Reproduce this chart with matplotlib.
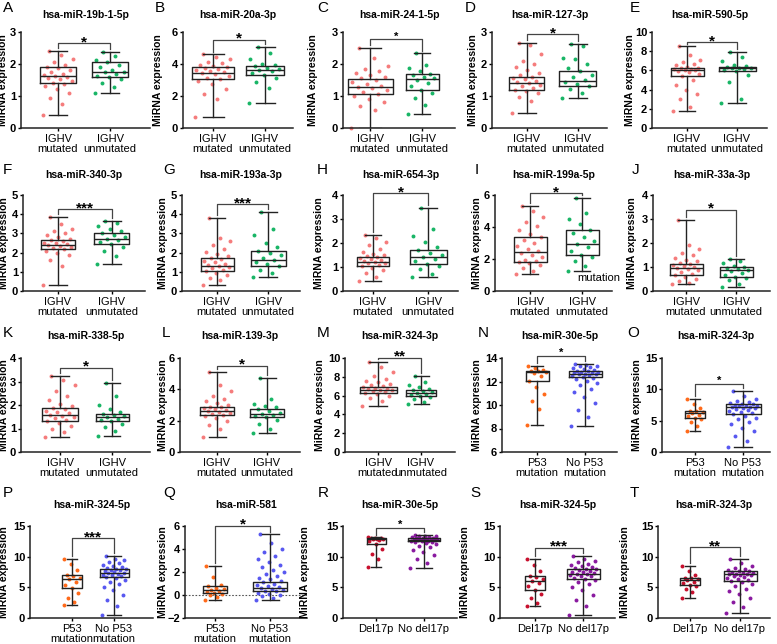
import matplotlib
matplotlib.use('Agg')
import matplotlib.pyplot as plt
import numpy as np

plt.rcParams['font.family'] = ['Liberation Sans', 'DejaVu Sans']

# ---- chart data ----
titles = ['hsa-miR-19b-1-5p', 'hsa-miR-20a-3p', 'hsa-miR-24-1-5p', 'hsa-miR-127-3p', 'hsa-miR-590-5p',
          'hsa-miR-340-3p', 'hsa-miR-193a-3p', 'hsa-miR-654-3p', 'hsa-miR-199a-5p', 'hsa-miR-33a-3p',
          'hsa-miR-338-5p', 'hsa-miR-139-3p', 'hsa-miR-324-3p', 'hsa-miR-30e-5p', 'hsa-miR-324-3p',
          'hsa-miR-324-5p', 'hsa-miR-581', 'hsa-miR-30e-5p', 'hsa-miR-324-5p', 'hsa-miR-324-3p']
letters = list('ABCDEFGHIJKLMNOPQRST')
group_kind = ['ighv'] * 13 + ['p53'] * 4 + ['del'] * 3
group_labels = {'ighv': ['IGHV\nmutated', 'IGHV\nunmutated'],
                'p53': ['P53\nmutation', 'No P53\nmutation'],
                'del': ['Del17p', 'No del17p']}
sig = ['*', '*', '*', '*', '*', '***', '***', '*', '*', '*',
       '*', '*', '**', '*', '*', '***', '*', '*', '***', '**']
bracket_y = [2.65, 5.5, 2.77, 2.93, 8.93, 4.26, 4.52, 4.07, 6.1, 3.37,
             3.59, 5.5, 10.03, 14.15, 10.8, 13.0, 6.0, 14.7, 11.4, 11.5]
y_min = [0, 0, 0, 0, 0, 0, 0, 0, 0, 0, 0, 0, 0, 6, 0, 0, -2, 0, 0, 0]
y_max = [3, 6, 3, 3, 10, 5, 5, 4, 6, 4, 4, 6, 10, 14, 15, 15, 6, 15, 15, 15]
y_step = [1, 2, 1, 1, 2, 1, 1, 1, 2, 1, 1, 2, 2, 2, 5, 5, 2, 5, 5, 5]

# box stats: (min, q1, median, q3, max)
stats_g1 = [(0.40, 1.42, 1.62, 1.90, 2.42), (0.70, 3.05, 3.45, 3.80, 4.60), (0.00, 1.07, 1.28, 1.52, 2.50),
            (0.48, 1.20, 1.42, 1.60, 2.66), (1.80, 5.40, 6.00, 6.20, 8.50), (0.30, 2.20, 2.40, 2.65, 3.88),
            (0.30, 1.03, 1.30, 1.70, 3.80), (0.40, 1.05, 1.22, 1.42, 2.32), (1.05, 1.79, 2.46, 3.37, 5.33),
            (0.28, 0.65, 0.97, 1.13, 2.97), (0.63, 1.33, 1.59, 1.87, 3.25), (0.98, 2.38, 2.63, 2.90, 5.10),
            (4.93, 6.32, 6.61, 6.89, 9.57), (8.28, 12.06, 12.84, 12.93, 13.36), (3.36, 5.41, 6.17, 6.60, 8.50),
            (2.11, 4.88, 6.34, 7.00, 9.70), (-0.42, 0.17, 0.43, 0.74, 2.53), (8.30, 12.10, 12.80, 13.10, 13.15),
            (2.00, 4.60, 6.10, 6.90, 9.70), (3.30, 5.40, 6.20, 6.60, 8.50)]
stats_g2 = [(1.10, 1.58, 1.75, 2.05, 2.38), (1.58, 3.30, 3.65, 3.85, 5.05), (0.45, 1.18, 1.53, 1.68, 2.33),
            (0.93, 1.30, 1.48, 1.77, 2.62), (2.60, 5.95, 6.20, 6.40, 7.95), (1.42, 2.45, 2.72, 3.00, 3.65),
            (0.75, 1.28, 1.62, 2.08, 4.12), (0.58, 1.14, 1.42, 1.70, 3.45), (1.22, 2.25, 2.91, 3.83, 5.79),
            (0.17, 0.58, 0.86, 0.99, 1.35), (0.67, 1.31, 1.47, 1.62, 2.95), (1.20, 2.21, 2.42, 2.74, 4.74),
            (5.10, 5.96, 6.25, 6.61, 8.10), (8.20, 12.41, 12.64, 12.93, 13.50), (0.76, 6.06, 7.14, 7.58, 9.69),
            (0.54, 6.62, 7.27, 8.07, 10.13), (-0.42, 0.31, 0.60, 1.09, 5.28), (8.20, 12.50, 12.70, 13.10, 13.50),
            (0.50, 6.40, 7.20, 8.00, 10.10), (0.80, 6.00, 7.10, 7.60, 9.70)]

points_g1 = [
    [0.40, 0.75, 0.95, 1.10, 1.22, 1.30, 1.38, 1.42, 1.48, 1.52, 1.56, 1.60, 1.62, 1.66, 1.70, 1.74, 1.80, 1.86, 1.90, 1.96, 2.05, 2.15, 2.28, 2.42],
    [0.70, 1.80, 2.10, 2.45, 2.75, 2.95, 3.05, 3.15, 3.25, 3.35, 3.42, 3.48, 3.55, 3.62, 3.70, 3.76, 3.80, 3.88, 3.95, 4.05, 4.15, 4.30, 4.45, 4.60],
    [0.00, 0.55, 0.70, 0.82, 0.92, 1.00, 1.07, 1.12, 1.18, 1.24, 1.28, 1.32, 1.38, 1.44, 1.50, 1.55, 1.60, 1.66, 1.72, 1.78, 1.84, 1.95, 2.20, 2.50],
    [0.48, 0.85, 0.98, 1.08, 1.15, 1.20, 1.25, 1.30, 1.35, 1.40, 1.43, 1.48, 1.52, 1.56, 1.60, 1.66, 1.72, 1.80, 1.90, 2.00, 2.10, 2.30, 2.60, 2.66],
    [1.80, 2.20, 3.00, 3.50, 4.00, 4.50, 5.00, 5.40, 5.60, 5.80, 5.90, 6.00, 6.05, 6.10, 6.15, 6.20, 6.30, 6.40, 6.55, 6.70, 6.90, 7.10, 7.60, 8.50],
    [0.30, 1.30, 1.60, 1.85, 2.00, 2.10, 2.20, 2.25, 2.30, 2.35, 2.40, 2.44, 2.48, 2.52, 2.58, 2.65, 2.72, 2.80, 2.90, 3.00, 3.10, 3.25, 3.50, 3.88],
    [0.30, 0.55, 0.70, 0.85, 0.95, 1.03, 1.10, 1.18, 1.25, 1.30, 1.36, 1.42, 1.50, 1.58, 1.65, 1.70, 1.80, 1.92, 2.05, 2.20, 2.40, 2.60, 2.75, 3.80],
    [0.40, 0.60, 0.75, 0.88, 0.97, 1.05, 1.10, 1.15, 1.18, 1.22, 1.26, 1.30, 1.34, 1.38, 1.42, 1.46, 1.50, 1.55, 1.62, 1.75, 1.90, 2.05, 2.20, 2.32],
    [1.05, 1.25, 1.45, 1.60, 1.72, 1.79, 1.85, 1.95, 2.10, 2.25, 2.40, 2.50, 2.65, 2.80, 3.00, 3.20, 3.37, 3.55, 3.80, 4.05, 4.30, 4.60, 5.00, 5.33],
    [0.28, 0.35, 0.42, 0.50, 0.58, 0.65, 0.72, 0.80, 0.86, 0.92, 0.97, 1.00, 1.04, 1.08, 1.13, 1.18, 1.24, 1.30, 1.38, 1.48, 1.60, 1.75, 1.90, 2.97],
    [0.63, 0.85, 1.00, 1.12, 1.22, 1.33, 1.38, 1.44, 1.50, 1.55, 1.59, 1.64, 1.70, 1.76, 1.82, 1.87, 1.95, 2.05, 2.20, 2.40, 2.60, 2.85, 3.05, 3.25],
    [0.98, 1.50, 1.75, 1.95, 2.15, 2.30, 2.38, 2.45, 2.52, 2.58, 2.63, 2.68, 2.74, 2.80, 2.86, 2.90, 3.00, 3.10, 3.25, 3.40, 3.60, 3.90, 4.30, 5.10],
    [4.93, 5.40, 5.75, 6.00, 6.15, 6.32, 6.40, 6.48, 6.55, 6.61, 6.66, 6.72, 6.80, 6.89, 6.98, 7.10, 7.25, 7.40, 7.60, 7.80, 8.10, 8.50, 9.00, 9.57],
    [8.28, 9.70, 10.30, 10.90, 11.50, 12.06, 12.50, 12.75, 12.84, 12.88, 12.93, 13.00, 13.15, 13.36],
    [3.36, 4.20, 4.80, 5.20, 5.41, 5.70, 5.95, 6.17, 6.35, 6.50, 6.60, 7.00, 7.60, 8.50],
    [2.11, 2.60, 3.30, 4.00, 4.88, 5.40, 5.90, 6.34, 6.60, 6.85, 7.00, 7.80, 8.80, 9.70],
    [-0.42, -0.20, 0.00, 0.10, 0.17, 0.25, 0.35, 0.43, 0.55, 0.65, 0.74, 0.85, 1.60, 2.53],
    [8.30, 9.60, 10.40, 11.20, 12.10, 12.50, 12.70, 12.80, 12.90, 12.95, 13.00, 13.05, 13.10, 13.15],
    [2.00, 2.50, 3.20, 3.90, 4.60, 5.20, 5.70, 6.10, 6.40, 6.70, 6.90, 7.60, 8.60, 9.70],
    [3.30, 4.20, 4.80, 5.20, 5.40, 5.70, 5.95, 6.20, 6.35, 6.50, 6.60, 7.00, 7.60, 8.50],
]
points_g2 = [
    [1.10, 1.28, 1.40, 1.52, 1.58, 1.64, 1.70, 1.74, 1.76, 1.82, 1.90, 1.98, 2.05, 2.12, 2.25, 2.38],
    [1.58, 2.50, 2.90, 3.15, 3.30, 3.45, 3.58, 3.65, 3.70, 3.78, 3.85, 3.92, 4.00, 4.30, 4.70, 5.05],
    [0.45, 0.72, 0.95, 1.08, 1.18, 1.30, 1.42, 1.50, 1.55, 1.60, 1.65, 1.70, 1.78, 1.88, 1.98, 2.33],
    [0.93, 1.10, 1.22, 1.30, 1.38, 1.45, 1.50, 1.58, 1.66, 1.77, 1.88, 2.00, 2.15, 2.20, 2.55, 2.62],
    [2.60, 3.00, 4.80, 5.50, 5.95, 6.05, 6.15, 6.20, 6.25, 6.30, 6.40, 6.50, 6.60, 7.00, 7.40, 7.95],
    [1.42, 1.80, 2.10, 2.30, 2.45, 2.55, 2.65, 2.72, 2.80, 2.90, 3.00, 3.10, 3.25, 3.40, 3.55, 3.65],
    [0.75, 0.95, 1.10, 1.28, 1.40, 1.52, 1.62, 1.72, 1.85, 1.98, 2.08, 2.30, 2.50, 2.90, 3.25, 4.12],
    [0.58, 0.70, 0.90, 1.05, 1.14, 1.25, 1.35, 1.42, 1.50, 1.60, 1.70, 1.85, 2.05, 2.30, 2.60, 3.45],
    [1.22, 1.55, 1.85, 2.10, 2.25, 2.50, 2.75, 2.91, 3.10, 3.35, 3.60, 3.83, 4.20, 4.50, 4.90, 5.79],
    [0.17, 0.30, 0.45, 0.55, 0.58, 0.66, 0.75, 0.82, 0.86, 0.90, 0.95, 0.99, 1.05, 1.15, 1.25, 1.35],
    [0.67, 0.90, 1.05, 1.20, 1.31, 1.36, 1.42, 1.47, 1.52, 1.57, 1.62, 1.70, 1.85, 2.00, 2.40, 2.95],
    [1.20, 1.50, 1.80, 2.05, 2.21, 2.28, 2.35, 2.42, 2.50, 2.60, 2.74, 2.85, 2.95, 3.05, 3.40, 4.74],
    [5.10, 5.30, 5.60, 5.80, 5.96, 6.05, 6.15, 6.25, 6.35, 6.45, 6.61, 6.75, 6.90, 7.10, 7.40, 8.10],
    [8.20, 9.00, 9.60, 10.20, 10.70, 11.10, 11.40, 11.70, 11.90, 12.05, 12.20, 12.30, 12.41, 12.48, 12.55, 12.60,
     12.64, 12.68, 12.72, 12.76, 12.80, 12.85, 12.90, 12.93, 12.98, 13.05, 13.12, 13.20, 13.28, 13.35, 13.42, 13.50],
    [0.76, 1.80, 2.60, 3.30, 3.90, 4.40, 4.80, 5.20, 5.50, 5.80, 6.06, 6.25, 6.45, 6.60, 6.75, 6.90,
     7.00, 7.08, 7.14, 7.20, 7.28, 7.35, 7.42, 7.50, 7.58, 7.70, 7.85, 8.00, 8.20, 8.50, 8.90, 9.69],
    [0.54, 2.00, 3.00, 3.80, 4.50, 5.00, 5.50, 5.90, 6.20, 6.45, 6.62, 6.80, 6.95, 7.08, 7.18, 7.27,
     7.38, 7.50, 7.62, 7.75, 7.88, 8.00, 8.07, 8.20, 8.35, 8.50, 8.70, 8.90, 9.10, 9.40, 9.70, 10.13],
    [-0.42, -0.25, -0.10, 0.00, 0.10, 0.20, 0.31, 0.38, 0.45, 0.52, 0.60, 0.68, 0.76, 0.85, 0.95, 1.09,
     1.20, 1.35, 1.50, 1.65, 1.80, 2.00, 2.20, 2.40, 2.60, 2.85, 3.10, 3.40, 3.70, 4.00, 4.50, 5.28],
    [8.20, 9.00, 9.60, 10.20, 10.70, 11.10, 11.50, 11.80, 12.00, 12.20, 12.35, 12.45, 12.50, 12.55, 12.60, 12.65,
     12.70, 12.74, 12.78, 12.82, 12.86, 12.90, 12.95, 13.00, 13.05, 13.10, 13.15, 13.22, 13.30, 13.38, 13.45, 13.50],
    [0.50, 2.00, 3.00, 3.80, 4.50, 5.00, 5.50, 5.90, 6.15, 6.40, 6.60, 6.78, 6.92, 7.05, 7.15, 7.20,
     7.30, 7.42, 7.55, 7.68, 7.80, 7.92, 8.00, 8.15, 8.30, 8.45, 8.65, 8.85, 9.05, 9.35, 9.65, 10.10],
    [0.80, 1.80, 2.60, 3.30, 3.90, 4.40, 4.80, 5.20, 5.50, 5.80, 6.00, 6.20, 6.40, 6.55, 6.70, 6.85,
     6.98, 7.05, 7.10, 7.18, 7.25, 7.32, 7.40, 7.48, 7.60, 7.72, 7.85, 8.00, 8.20, 8.50, 8.90, 9.70],
]

# ---- layout (pixels in a 777x644 canvas) ----
W, H = 777, 644
ax_left = [21, 183, 343, 492, 652, 23, 182, 343, 495, 653, 21, 180, 345, 502, 662, 30, 185, 343, 500, 658]
cat1 = [58, 213, 370, 527, 687, 58, 217, 373, 530, 686, 60, 217, 378, 537, 695, 72, 215, 376, 535, 690]
cat2 = [110, 265, 422, 578, 737, 112, 268, 428, 582, 736, 112, 267, 421, 585, 743, 114, 270, 424, 583, 740]
ax_right = [150, 293, 455, 607, 767, 145, 300, 458, 612, 770, 150, 300, 455, 617, 770, 153, 307, 457, 615, 770]
row_top = [32, 195, 358, 526]
row_bot = [128, 291, 452, 618]
box_w1 = [36, 42, 45, 35, 33, 35, 33, 32, 33, 33, 36, 34, 37, 23, 20, 20, 24, 19, 20, 20]
box_w2 = [36, 38, 33, 37, 37, 35, 35, 37, 33, 33, 33, 34, 30, 33, 35, 29, 34, 32, 33, 33]
ylabel_x = [8, 163, 318, 478, 635, 9, 168, 324, 482, 637, 9, 168, 325, 482, 642, 9, 168, 310, 470, 630]
letter_x = [3, 155, 317, 465, 630, 3, 163, 317, 475, 632, 3, 162, 317, 478, 627, 3, 163, 318, 470, 630]
letter_y = [8, 170, 333, 493]
title_y = [15, 175, 336, 505]

colors = {'ighv': ('#f57c7c', '#19b566'),
          'p53': ('#ff6a1a', '#5858f0'),
          'del': ('#c8102e', '#8a1aa0')}
small_star = {2, 13, 14, 17}

fig = plt.figure(figsize=(W / 100, H / 100), dpi=100)

for i in range(20):
    row = i // 5
    left, right = ax_left[i], ax_right[i]
    gap = cat2[i] - cat1[i]
    ax = fig.add_axes([left / W, 1 - row_bot[row] / H, (right - left) / W, (row_bot[row] - row_top[row]) / H])
    ax.set_xlim((left - cat1[i]) / gap, 1 + (right - cat2[i]) / gap)
    ax.set_ylim(y_min[i], y_max[i])
    ax.set_yticks(np.arange(y_min[i], y_max[i] + 0.01, y_step[i]))
    kind = group_kind[i]
    c1, c2 = colors[kind]
    w1, w2 = box_w1[i] / gap, box_w2[i] / gap

    # scattered points
    for pos, vals, col, w in [(0, points_g1[i], c1, w1), (1, points_g2[i], c2, w2)]:
        vals = np.array(vals)
        k = np.arange(len(vals))
        offs = (((k * 0.618034) % 1.0) - 0.5) * w * 0.85
        ax.scatter(pos + offs, vals, s=8, color=col, marker='o', linewidths=0, zorder=2, clip_on=False)

    bstats = []
    for st in (stats_g1[i], stats_g2[i]):
        bstats.append(dict(whislo=st[0], q1=st[1], med=st[2], q3=st[3], whishi=st[4], fliers=[]))
    lc = '#222222'
    ax.bxp(bstats, positions=[0, 1], widths=[w1, w2], capwidths=[w1 * 0.5, w2 * 0.5],
           showfliers=False, patch_artist=False,
           boxprops=dict(color=lc, lw=1.0), whiskerprops=dict(color=lc, lw=1.0),
           capprops=dict(color=lc, lw=1.0), medianprops=dict(color=lc, lw=1.0),
           manage_ticks=False, zorder=3)

    if i == 16:
        ax.axhline(0, color='#555555', lw=0.8, ls=(0, (1.5, 1.5)), zorder=1)

    # significance bracket
    by = bracket_y[i]
    gap_y = (y_max[i] - y_min[i]) * 0.03
    ax.plot([0, 0, 1, 1], [stats_g1[i][4] + gap_y, by, by, stats_g2[i][4] + gap_y],
            color='#444444', lw=0.9, clip_on=False, zorder=4)
    fs = 8 if i in small_star else 11
    ax.annotate(sig[i], xy=(0.5, by), xytext=(0, -2 if fs == 11 else 0), textcoords='offset points',
                ha='center', va='baseline', fontsize=fs, fontweight='bold', annotation_clip=False)

    for side in ('top', 'right'):
        ax.spines[side].set_visible(False)
    for side in ('left', 'bottom'):
        ax.spines[side].set_linewidth(1.1)
        ax.spines[side].set_color('#222222')
    ax.set_xticks([0, 1])
    ax.set_xticklabels(group_labels[kind], fontsize=8, linespacing=1.0)
    ax.tick_params(axis='x', length=2, width=1.0, pad=2)
    ax.tick_params(axis='y', length=2.5, width=1.0, pad=1, labelsize=8)
    for lab in ax.get_yticklabels():
        lab.set_fontweight('bold')
    ax.set_ylabel('MiRNA expression', fontsize=7.5, fontweight='bold')
    ax.yaxis.set_label_coords((ylabel_x[i] - left) / (right - left), 0.5)

    fig.text((left + right) / 2 / W, 1 - title_y[row] / H, titles[i],
             ha='center', va='center', fontsize=7.5, fontweight='bold')
    fig.text(letter_x[i] / W, 1 - letter_y[row] / H, letters[i],
             ha='left', va='center', fontsize=11)

# stray label present in the original figure
fig.text(599 / W, 1 - 278 / H, 'mutation', ha='center', va='center', fontsize=8)

fig.savefig('out.png', dpi=100)
